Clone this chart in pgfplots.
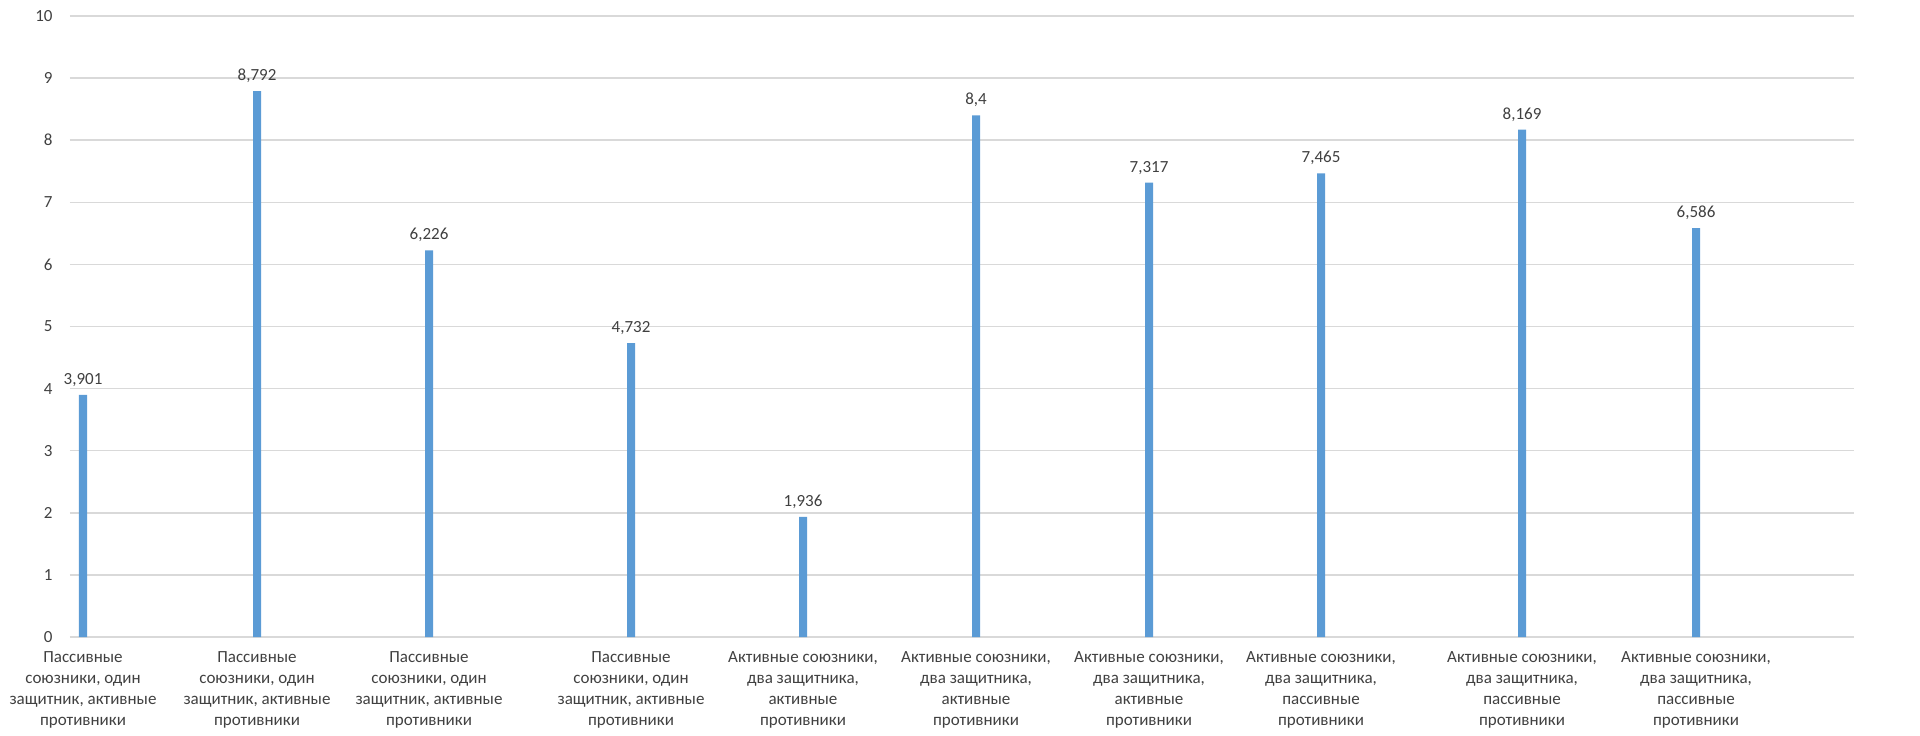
\documentclass[border=0pt]{standalone}
\usepackage{pgfplots}
\pgfplotsset{compat=1.18}
\usepackage{fontspec}
\setmainfont{Carlito}
\definecolor{barblue}{HTML}{5B9BD5}
\definecolor{gridgray}{HTML}{D9D9D9}
\definecolor{txt}{HTML}{404040}
\pgfplotstableread{
x y
83 3.901
257 8.792
429 6.226
631 4.732
803 1.936
976 8.4
1149 7.317
1321 7.465
1522 8.169
1696 6.586
}\datatable
\begin{document}
\begin{tikzpicture}
\path[use as bounding box] (-35pt,-49pt) rectangle (925pt,318.5pt);
\begin{axis}[
 at={(0,0)}, anchor=south west,
 scale only axis, width=892pt, height=310.5pt,
 xmin=70, xmax=1854, ymin=0, ymax=10,
 ybar, bar width=4pt,
 ytick={0,1,...,10},
 ymajorgrids, grid style={gridgray, line width=0.75pt},
 axis line style={draw=none}, major tick length=0pt,
 xtick={83,257,429,631,803,976,1149,1321,1522,1696},
 xticklabels={
  {Пассивные\\союзники, один\\защитник, активные\\противники},
  {Пассивные\\союзники, один\\защитник, активные\\противники},
  {Пассивные\\союзники, один\\защитник, активные\\противники},
  {Пассивные\\союзники, один\\защитник, активные\\противники},
  {Активные союзники,\\два защитника,\\активные\\противники},
  {Активные союзники,\\два защитника,\\активные\\противники},
  {Активные союзники,\\два защитника,\\активные\\противники},
  {Активные союзники,\\два защитника,\\пассивные\\противники},
  {Активные союзники,\\два защитника,\\пассивные\\противники},
  {Активные союзники,\\два защитника,\\пассивные\\противники}},
 xticklabel style={align=center, font=\fontsize{8.5}{10.5}\selectfont, text=txt, inner sep=0pt, yshift=-7pt},
 yticklabel style={font=\fontsize{8.5}{10}\selectfont, text=txt, inner sep=0pt, xshift=-8.5pt},
 /pgf/number format/assume math mode=true,
 /pgf/number format/use comma,
 /pgf/number format/precision=3,
]
\addplot[fill=barblue, draw=none,
  nodes near coords,
  nodes near coords style={font=\fontsize{8.5}{10}\selectfont, text=txt, anchor=south, inner sep=0pt, yshift=4pt}]
  table[x=x, y=y] {\datatable};
\end{axis}
\end{tikzpicture}
\end{document}
